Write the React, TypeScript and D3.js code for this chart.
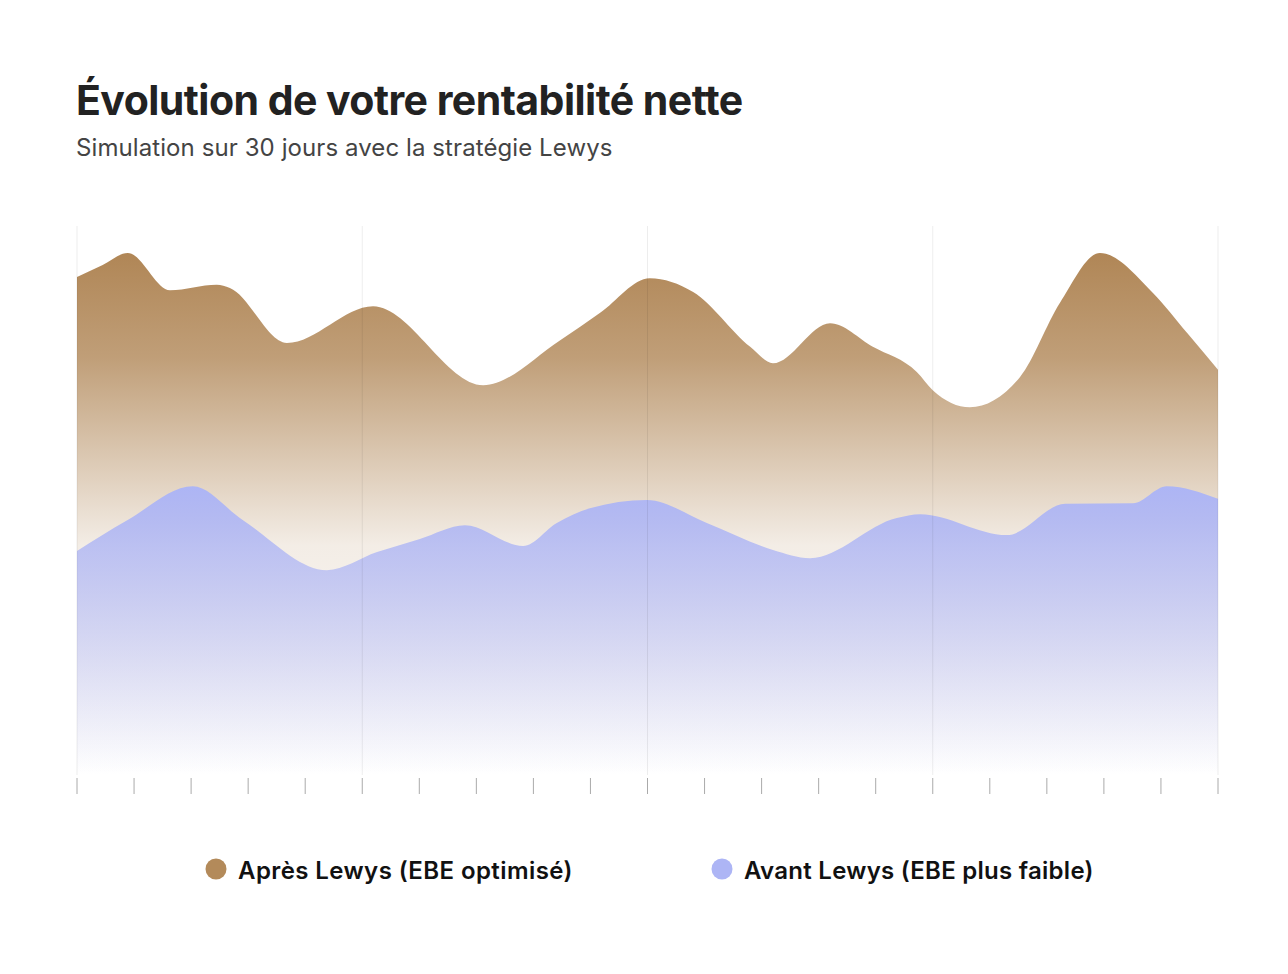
import { useMemo } from "react";
import * as d3 from "d3";

const WIDTH = 1288;
const HEIGHT = 974;
const MARGIN = { top: 226, right: 70, bottom: 199, left: 77 };

// positions along the 30-day axis, in tick units (20 tick intervals)
const apresX = [0, 0.45, 0.89, 1.63, 2.45, 2.68, 3.68, 5.19, 7.12, 8.47, 9.17, 10.04, 10.8, 11.8, 12.2, 13.2, 13.95, 14.72, 15.0, 15.65, 16.53, 17.23, 17.93, 18.86, 19.46, 20];
const apresY = [90.7, 92.9, 95.1, 88.3, 89.3, 88.7, 78.7, 85.4, 71.0, 79.2, 84.2, 90.5, 88.0, 78.0, 75.0, 82.3, 78.0, 73.4, 70.1, 67.0, 72.5, 86.0, 95.1, 87.8, 80.5, 73.8];

const avantX = [0, 0.88, 2.03, 2.91, 4.38, 5.26, 6.01, 6.8, 7.82, 8.41, 8.99, 9.99, 11.04, 12.2, 12.85, 14.37, 14.78, 16.3, 17.32, 18.51, 19.1, 20];
const avantY = [40.8, 46.4, 52.6, 46.4, 37.3, 40.6, 43.0, 45.5, 41.7, 45.9, 48.6, 50.1, 45.9, 41.0, 39.5, 46.8, 47.5, 43.7, 49.4, 49.5, 52.6, 50.3];

const TICKS = d3.range(0, 21);
const GRID = [0, 5, 10, 15, 20];

const TITLE = "Évolution de votre rentabilité nette";
const SUBTITLE = "Simulation sur 30 jours avec la stratégie Lewys";
const LEGEND = [
  { label: "Après Lewys (EBE optimisé)", color: "#B38A5A", x: 216, width: 334 },
  { label: "Avant Lewys (EBE plus faible)", color: "#ADB5F5", x: 722, width: 349 },
];

type Pt = { x: number; y: number };

export default function App() {
  const boundsW = WIDTH - MARGIN.left - MARGIN.right;
  const boundsH = HEIGHT - MARGIN.top - MARGIN.bottom;

  const xScale = useMemo(() => d3.scaleLinear().domain([0, 20]).range([0, boundsW]), [boundsW]);
  const yScale = useMemo(() => d3.scaleLinear().domain([0, 100]).range([boundsH, 0]), [boundsH]);

  const area = d3
    .area<Pt>()
    .x((d) => xScale(d.x))
    .y0(boundsH)
    .y1((d) => yScale(d.y))
    .curve(d3.curveMonotoneX);

  const apres = apresX.map((x, i) => ({ x, y: apresY[i] }));
  const avant = avantX.map((x, i) => ({ x, y: avantY[i] }));

  const apresTop = yScale(d3.max(apresY) as number);
  const avantTop = yScale(d3.max(avantY) as number);

  return (
    <svg
      width={WIDTH}
      height={HEIGHT}
      style={{ position: "absolute", left: 0, top: 0, background: "#fff" }}
      fontFamily="Inter, 'Noto Sans', sans-serif"
    >
      <defs>
        <linearGradient id="gApres" gradientUnits="userSpaceOnUse" x1={0} x2={0} y1={apresTop} y2={boundsH}>
          <stop offset="0" stopColor="#B08656" stopOpacity={1} />
          <stop offset="0.2" stopColor="#B08656" stopOpacity={0.8} />
          <stop offset="0.56" stopColor="#B08656" stopOpacity={0.15} />
          <stop offset="1" stopColor="#B08656" stopOpacity={0} />
        </linearGradient>
        <linearGradient id="gAvant" gradientUnits="userSpaceOnUse" x1={0} x2={0} y1={avantTop} y2={boundsH}>
          <stop offset="0" stopColor="#ADB5F5" stopOpacity={1} />
          <stop offset="1" stopColor="#ADB5F5" stopOpacity={0} />
        </linearGradient>
      </defs>

      <text x={76} y={115} fontSize={41} fontWeight={700} fill="#222" letterSpacing={-1.2} textLength={666}>
        {TITLE}
      </text>
      <text x={76} y={156} fontSize={24} fontWeight={400} fill="#444" letterSpacing={-0.4} textLength={536}>
        {SUBTITLE}
      </text>

      <g transform={`translate(${MARGIN.left},${MARGIN.top})`}>
        <path d={area(apres) ?? ""} fill="url(#gApres)" />
        <path d={area(avant) ?? ""} fill="url(#gAvant)" />

        {GRID.map((t) => (
          <line key={t} x1={xScale(t)} x2={xScale(t)} y1={0} y2={boundsH} stroke="#000" strokeOpacity={0.07} />
        ))}

        {TICKS.map((t) => (
          <line key={t} x1={xScale(t)} x2={xScale(t)} y1={boundsH + 3} y2={boundsH + 19} stroke="#aaa" />
        ))}
      </g>

      {LEGEND.map((l) => (
        <g key={l.label}>
          <circle cx={l.x} cy={869} r={10.5} fill={l.color} />
          <text x={l.x + 22} y={879} fontSize={24} fontWeight={600} fill="#111" letterSpacing={-0.5} textLength={l.width}>
            {l.label}
          </text>
        </g>
      ))}
    </svg>
  );
}
